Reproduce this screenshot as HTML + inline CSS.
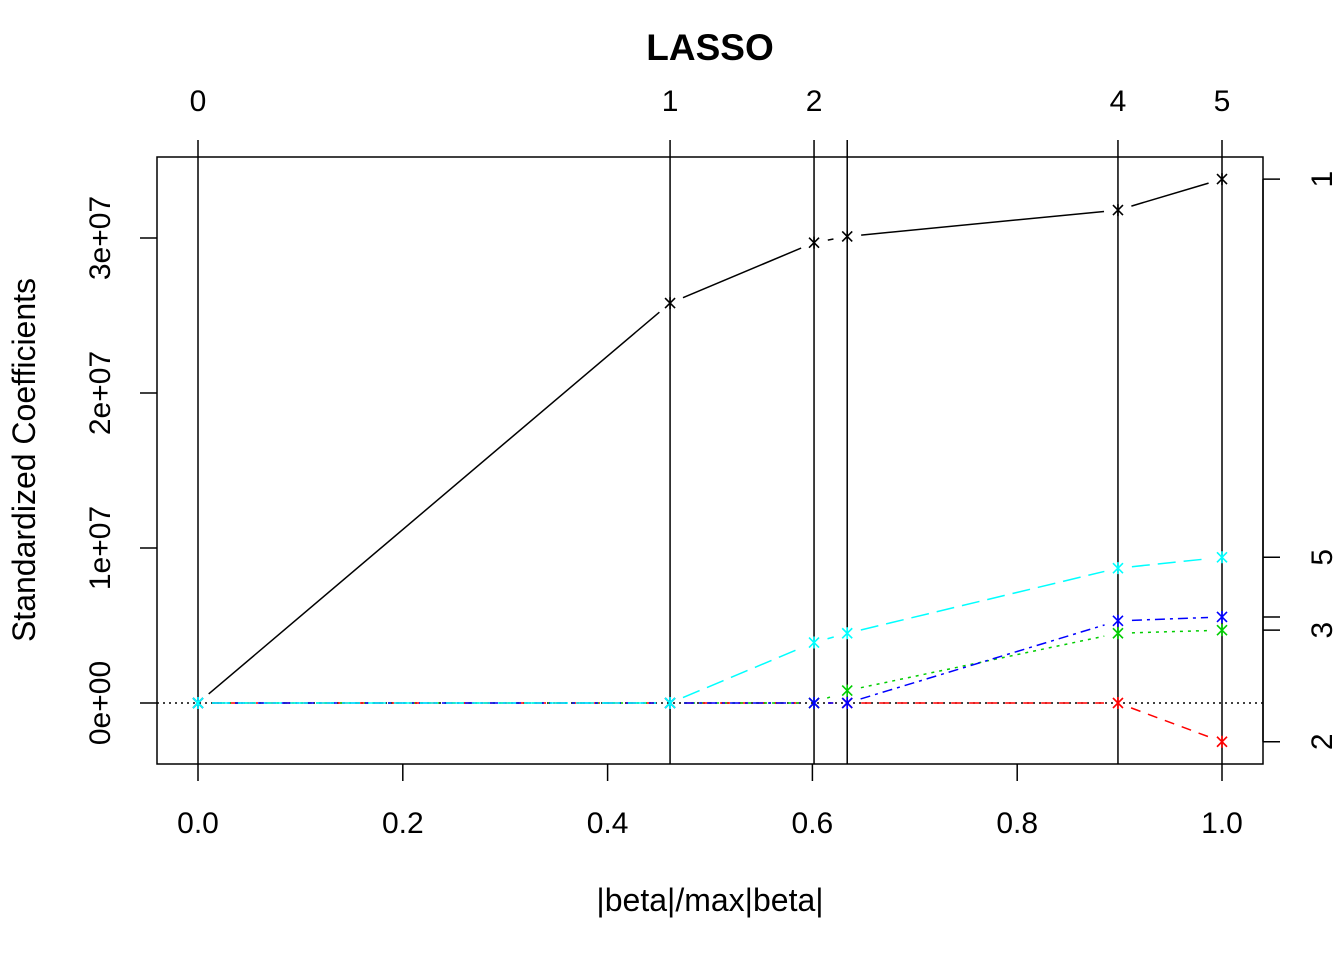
<!DOCTYPE html>
<html><head><meta charset="utf-8"><style>
body{margin:0;background:#fff}
svg text{font-family:"Liberation Sans",sans-serif}
</style></head><body>
<svg id="chart" width="1344" height="960" xmlns="http://www.w3.org/2000/svg">
<rect width="1344" height="960" fill="#fff"/>
<text x="710" y="60" font-size="37" font-weight="bold" text-anchor="middle">LASSO</text>
<text x="710" y="911" font-size="32" text-anchor="middle">|beta|/max|beta|</text>
<text transform="translate(35,460) rotate(-90)" font-size="32" text-anchor="middle">Standardized Coefficients</text>
<rect x="157" y="157" width="1106" height="607" fill="none" stroke="#000" stroke-width="1.5"/>
<g id="g"></g>
</svg>
<script>
const steps=[0,0.461,0.6016,0.634,0.8984,1.0];
const stepLabels=['0','1','2','','4','5'];
const v1=[0,2.58,2.97,3.01,3.18,3.38];
const v2=[0,0,0,0,0,-0.25];
const v3=[0,0,0,0.08,0.45,0.47];
const v4=[0,0,0,0,0.53,0.555];
const v5=[0,0,0.39,0.45,0.87,0.94];
const xTicks=[0,0.2,0.4,0.6,0.8,1.0];
const xTickLabels=['0.0','0.2','0.4','0.6','0.8','1.0'];
const yTicks=[0,1,2,3];
const yTickLabels=['0e+00','1e+07','2e+07','3e+07'];
const rightLabels=['1','2','3','','5'];

const X=v=>198+v*1024, Y=v=>703-v*155;
const NS='http://www.w3.org/2000/svg', g=document.getElementById('g');
function el(t,a,p){const e=document.createElementNS(NS,t);for(const k in a)e.setAttribute(k,a[k]);(p||g).appendChild(e);return e;}
let z=el('line',{x1:157,x2:1263,y1:Y(0),y2:Y(0),stroke:'#000','stroke-width':1.5,'stroke-dasharray':'2,4'});


steps.forEach((s,i)=>{
 const l=el('line',{x1:X(s),x2:X(s),y1:157,y2:764,stroke:'#000','stroke-width':1.5});
 
 
 const tk=el('line',{x1:X(s),x2:X(s),y1:157,y2:140,stroke:'#000','stroke-width':1.5});
 
 
 if(stepLabels[i]){const t=el('text',{x:X(s),y:111,'font-size':30,'text-anchor':'middle'});t.textContent=stepLabels[i];
 
 }
});
xTicks.forEach((v,i)=>{
 const l=el('line',{x1:X(v),x2:X(v),y1:764,y2:781,stroke:'#000','stroke-width':1.5});
 
 
 const t=el('text',{x:X(v),y:833,'font-size':30,'text-anchor':'middle'});t.textContent=xTickLabels[i];
 
 
});
yTicks.forEach((v,i)=>{
 const l=el('line',{x1:157,x2:140,y1:Y(v),y2:Y(v),stroke:'#000','stroke-width':1.5});
 
 
 const t=el('text',{transform:`translate(110,${Y(v)}) rotate(-90)`,'font-size':30,'text-anchor':'middle'});t.textContent=yTickLabels[i];
 
 
});
const series=[[v1,'#000','none'],[v2,'#ff0000','10,8'],[v3,'#00cd00','3,5'],[v4,'#0000ff','10,5,3,5'],[v5,'#00ffff','18,8']];
series.forEach(([vals,c,d],si)=>{
 for(let i=0;i<vals.length-1;i++){
  const x1=X(steps[i]),y1=Y(vals[i]),x2=X(steps[i+1]),y2=Y(vals[i+1]);
  const L=Math.hypot(x2-x1,y2-y1),gap=14;
  if(L<2*gap+2)continue;
  const ux=(x2-x1)/L,uy=(y2-y1)/L;
  const ln=el('line',{x1:x1+ux*gap,y1:y1+uy*gap,x2:x2-ux*gap,y2:y2-uy*gap,stroke:c,'stroke-width':1.5,'stroke-dasharray':d});
  
  
 }
 vals.forEach((v,i)=>{
  const cx=X(steps[i]),cy=Y(v),r=5;
  const p=el('path',{d:`M${cx-r},${cy-r}L${cx+r},${cy+r}M${cx-r},${cy+r}L${cx+r},${cy-r}M${cx},${cy-r-1}L${cx},${cy+r+1}`,stroke:c,'stroke-width':1.6,fill:'none'});
  
  
 });
 const last=vals[vals.length-1];
 const tk=el('line',{x1:1263,x2:1280,y1:Y(last),y2:Y(last),stroke:'#000','stroke-width':1.5});
 
 
 if(rightLabels[si]){const t=el('text',{transform:`translate(1332,${Y(last)}) rotate(-90)`,'font-size':30,'text-anchor':'middle'});t.textContent=rightLabels[si];
 
 }
});
const ax=el('line',{x1:1263,x2:1263,y1:Y(v1[5]),y2:Y(v2[5]),stroke:'#000','stroke-width':1.5});


</script>
</body></html>
